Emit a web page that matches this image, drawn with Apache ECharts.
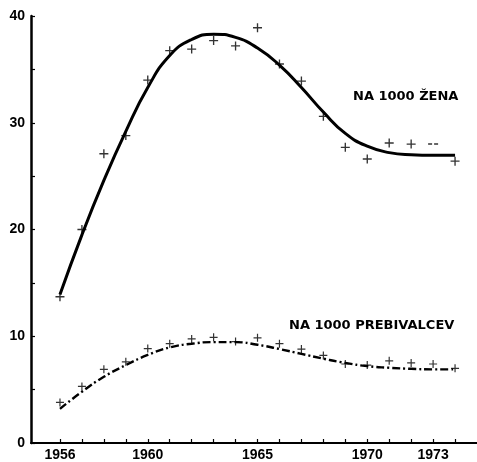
<!DOCTYPE html>
<html>
<head>
<meta charset="utf-8">
<script src="https://cdn.jsdelivr.net/npm/echarts@6/dist/echarts.min.js"></script>
<style>html,body{margin:0;padding:0;background:#fff}#c{width:477px;height:462px}</style>
</head>
<body>
<div id="c"></div>
<script>
const years = [1956,1957,1958,1959,1960,1961,1962,1963,1964,1965,1966,1967,1968,1969,1970,1971,1972,1973,1974];
const zenaPoints = [13.7,20.0,27.1,28.8,34.0,36.75,36.9,37.7,37.2,38.9,35.5,33.9,30.6,27.7,26.6,28.1,28.0,28.0,26.4];
const zenaCurve = [13.9,19.5,24.6,29.2,33.3,36.3,37.8,38.3,38.0,37.0,35.4,33.3,31.0,29.0,27.8,27.2,27.0,26.95,26.95];
const prebPoints = [3.8,5.3,6.9,7.6,8.85,9.3,9.75,9.9,9.5,9.85,9.3,8.8,8.2,7.4,7.3,7.7,7.5,7.4,7.0];
const prebCurve = [3.2,4.8,6.2,7.3,8.25,8.95,9.3,9.45,9.45,9.2,8.8,8.35,7.9,7.5,7.2,7.05,6.95,6.9,6.9];
const yTicks = [0,5,10,15,20,25,30,35,40];
const yLabels = [0,10,20,30,40];
const xLabels = [1956,1960,1965,1970,1973];
const dashYear = 1973; // plotted as "--" in the original
const labelZena = 'NA 1000 ŽENA';
const labelPreb = 'NA 1000 PREBIVALCEV';

const plus = 'path://M8.5,0h3v8.5h8.5v3h-8.5v8.5h-3v-8.5h-8.5v-3h8.5z';
const dash = 'path://M0,0h8v2h-8z M12,0h8v2h-8z';

const chart = echarts.init(document.getElementById('c'), null, {renderer:'canvas'});
const zip = (a) => years.map((y,i)=>[y,a[i]]);

chart.setOption({
  animation:false,
  backgroundColor:'#fff',
  grid:{left:31, right:0, top:16, bottom:16.3},
  xAxis:{
    type:'value', min:1954.68, max:1975,
    splitLine:{show:false},
    axisLine:{lineStyle:{color:'#000', width:2}},
    axisTick:{inside:true, length:4, lineStyle:{color:'#000', width:1.2}, customValues:years},
    axisLabel:{customValues:xLabels, formatter:(v)=>String(Math.round(v)), color:'#000', fontFamily:'Liberation Sans', fontWeight:'bold', fontSize:14, margin:5}
  },
  yAxis:{
    type:'value', min:0, max:40,
    splitLine:{show:false},
    axisLine:{show:true, lineStyle:{color:'#000', width:2.5}},
    axisTick:{inside:true, length:4, lineStyle:{color:'#000', width:1.2}, customValues:yTicks},
    axisLabel:{customValues:yLabels, color:'#000', fontFamily:'Liberation Sans', fontWeight:'bold', fontSize:14, margin:6}
  },
  series:[
    {type:'line', data:zip(zenaCurve), smooth:0.5, symbol:'none',
     lineStyle:{color:'#000', width:3}, z:2},
    {type:'line', data:zip(prebCurve), smooth:0.5, symbol:'none',
     lineStyle:{color:'#000', width:2.4, type:[8,3,2,3]}, z:2},
    {type:'scatter', z:3,
     data:zip(zenaPoints).map(d => d[0]===dashYear ? {value:d, symbol:dash, symbolSize:[10,1.5]} : {value:d}),
     symbol:plus, symbolSize:9, itemStyle:{color:'#000'}},
    {type:'scatter', z:3, data:zip(prebPoints), symbol:plus, symbolSize:8, itemStyle:{color:'#000'}}
  ],
  graphic:[
    {type:'text', left:353, top:90, style:{text:labelZena, fill:'#000', font:'bold 13px "DejaVu Sans"'}},
    {type:'text', left:289, top:319, style:{text:labelPreb, fill:'#000', font:'bold 13px "DejaVu Sans"'}}
  ]
});
</script>
</body>
</html>
